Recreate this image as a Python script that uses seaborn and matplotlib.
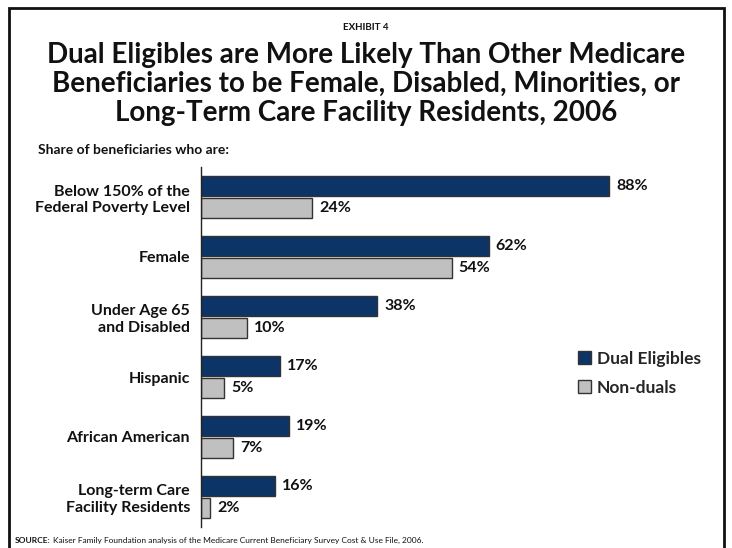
import matplotlib
matplotlib.use("Agg")
import matplotlib.pyplot as plt
import seaborn as sns
import pandas as pd
from matplotlib.patches import Rectangle

categories = [
    "Below 150% of the\nFederal Poverty Level",
    "Female",
    "Under Age 65\nand Disabled",
    "Hispanic",
    "African American",
    "Long-term Care\nFacility Residents",
]
dual_eligibles = [88, 62, 38, 17, 19, 16]
non_duals = [24, 54, 10, 5, 7, 2]
series_names = ["Dual Eligibles", "Non-duals"]

df = pd.DataFrame({
    "category": categories * 2,
    "share": dual_eligibles + non_duals,
    "group": [series_names[0]] * len(categories) + [series_names[1]] * len(categories),
})

sns.set_theme(style="white")
plt.rcParams["font.family"] = ["Lato", "DejaVu Sans"]
plt.rcParams["font.weight"] = "bold"

navy = "#0c3466"
grey = "#c0c0c0"
ink = "#111111"

fig = plt.figure(figsize=(7.32, 5.48), dpi=100)
fig.patch.set_facecolor("white")
ax = fig.add_axes([201 / 732, 1 - 527 / 548, 464 / 732, 360 / 548])

sns.barplot(
    data=df, y="category", x="share", hue="group", orient="h",
    palette=[navy, grey], order=categories, hue_order=series_names,
    width=0.76, gap=0.12, edgecolor="#333333", linewidth=1.0,
    saturation=1, ax=ax, legend=True,
)

ax.set_xlim(0, 100)
ax.set_ylim(5.5, -0.5)
ax.set_xlabel("")
ax.set_ylabel("")
ax.set_xticks([])
for side in ["top", "right", "bottom"]:
    ax.spines[side].set_visible(False)
ax.spines["left"].set_color("#222222")
ax.spines["left"].set_linewidth(1.0)
ax.tick_params(axis="y", length=0, pad=8, labelsize=11.5)
for lbl in ax.get_yticklabels():
    lbl.set_fontweight("bold")
    lbl.set_horizontalalignment("right")
    lbl.set_multialignment("right")
    lbl.set_color(ink)

for container, vals in zip(ax.containers, [dual_eligibles, non_duals]):
    ax.bar_label(container, labels=[f"{v}%" for v in vals], padding=5,
                 fontsize=11.5, fontweight="bold", color=ink)

handles, labels = ax.get_legend_handles_labels()
ax.legend(handles, labels, loc="upper left", bbox_to_anchor=(562 / 732, 1 - 335 / 548),
          bbox_transform=fig.transFigure, frameon=False, handlelength=0.75,
          handleheight=0.75, handletextpad=0.35, labelspacing=0.75,
          prop={"size": 12.5, "weight": "bold"})

fig.text(0.5, 1 - 27 / 548, "EXHIBIT 4", ha="center", va="center",
         fontsize=7, fontweight="bold", color=ink)
fig.text(0.5, 1 - 84 / 548,
         "Dual Eligibles are More Likely Than Other Medicare\n"
         "Beneficiaries to be Female, Disabled, Minorities, or\n"
         "Long-Term Care Facility Residents, 2006",
         ha="center", va="center", fontsize=20, fontweight="bold",
         color=ink, linespacing=1.12)
fig.text(38 / 732, 1 - 150 / 548, "Share of beneficiaries who are:", ha="left",
         va="center", fontsize=10, fontweight="bold", color=ink)

# Source line: bold lead-in followed by the citation, sharing one baseline
src_y = 1 - 543 / 548
lead = fig.text(15 / 732, src_y, "SOURCE:", ha="left", va="baseline",
                fontsize=6.0, fontweight="bold", color=ink)
renderer = fig.canvas.get_renderer()
lead_end = lead.get_window_extent(renderer).x1 / fig.bbox.width
fig.text(lead_end + 2 / 732, src_y,
         "Kaiser Family Foundation analysis of the Medicare Current Beneficiary Survey Cost & Use File, 2006.",
         ha="left", va="baseline", fontsize=6.0, fontweight="normal", color=ink)

fig.patches.append(Rectangle((9 / 732, -0.02), 715 / 732, 1 - 8 / 548 + 0.02,
                             transform=fig.transFigure, fill=False,
                             edgecolor=ink, linewidth=2.0))

fig.savefig("out.png", dpi=100)
